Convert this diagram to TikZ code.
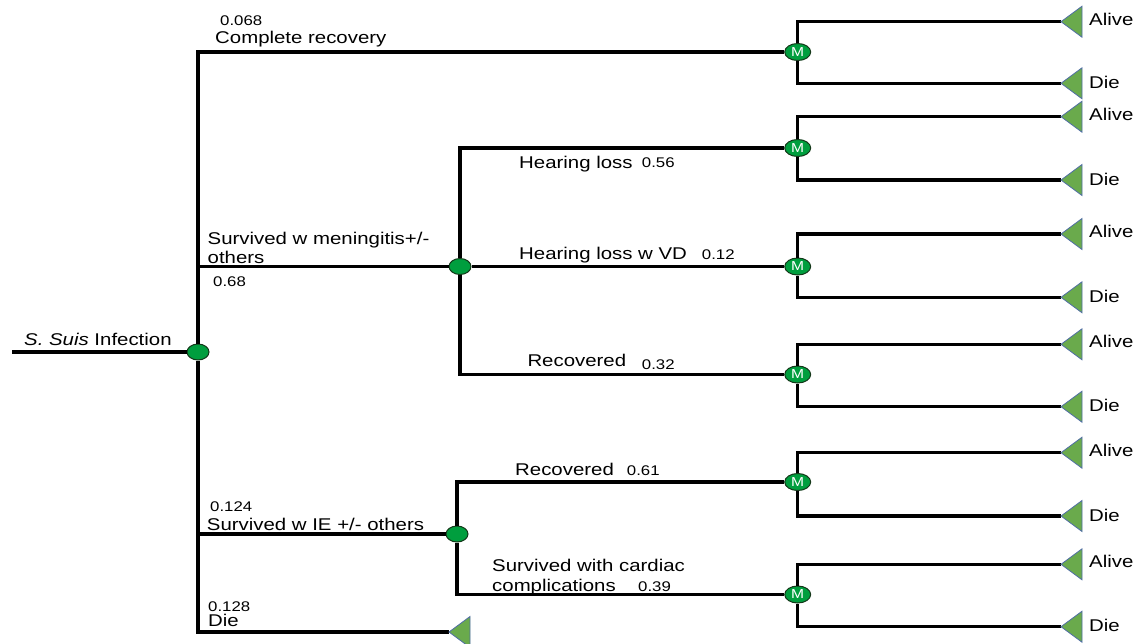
\documentclass[tikz,border=0pt]{standalone}
\usepackage{fontspec}
\setmainfont[FakeStretch=1.2]{Liberation Sans}
\definecolor{chgreen}{RGB}{0,158,62}
\definecolor{chdark}{RGB}{20,55,25}
\definecolor{trigreen}{RGB}{106,170,76}
\definecolor{triblue}{RGB}{80,110,165}
\usetikzlibrary{shapes.geometric}
\begin{document}
\begin{tikzpicture}[x=1pt,y=-1pt,
  tree/.style={line width=3.2pt, black, line join=miter},
  chance/.style={ellipse, fill=chgreen, draw=chdark, line width=1pt, minimum width=22pt, minimum height=16pt, inner sep=0pt},
  markov/.style={ellipse, fill=chgreen, draw=chdark, line width=1pt, minimum width=26pt, minimum height=17pt, inner sep=0pt, text=white, font=\fontsize{13}{13}\selectfont},
  lab/.style={anchor=base west, inner sep=0pt, font=\fontsize{17}{20}\selectfont},
  num/.style={anchor=base west, inner sep=0pt, font=\fontsize{14}{16}\selectfont},
  term/.style={fill=trigreen, draw=triblue, line width=0.8pt, line join=miter}
]
\useasboundingbox (0,0) rectangle (1147,643);

% decision structure nodes
\coordinate (root) at (12,352);
\node[chance] (c0) at (198,352) {};
\node[chance] (c1) at (460,266.5) {};
\node[chance] (c2) at (457,534) {};
\coordinate (tdie) at (449,632);

\node[markov] (m1) at (797.7,52) {M};
\node[markov] (m2) at (797.7,148) {M};
\node[markov] (m3) at (797.7,266.5) {M};
\node[markov] (m4) at (797.7,374.5) {M};
\node[markov] (m5) at (797.7,482) {M};
\node[markov] (m6) at (797.7,594.5) {M};

% terminal coordinates (apex of triangles)
\coordinate (a1) at (1061,21.7);  \coordinate (d1) at (1061,83.3);
\coordinate (a2) at (1061,116.7); \coordinate (d2) at (1061,180);
\coordinate (a3) at (1061,234);   \coordinate (d3) at (1061,297.3);
\coordinate (a4) at (1061,344.3); \coordinate (d4) at (1061,406.7);
\coordinate (a5) at (1061,452.7); \coordinate (d5) at (1061,516);
\coordinate (a6) at (1061,564.3); \coordinate (d6) at (1061,626.7);

% connectors
\draw[tree] (root) -- (c0);
\draw[tree] (c0) |- (m1);
\draw[tree] (c0) |- (c1);
\draw[tree] (c0) |- (c2);
\draw[tree] (c0) |- (tdie);
\draw[tree] (c1) |- (m2);
\draw[tree] (c1) -- (m3);
\draw[tree] (c1) |- (m4);
\draw[tree] (c2) |- (m5);
\draw[tree] (c2) |- (m6);
\foreach \i in {1,...,6}{
  \draw[tree] (m\i) |- (a\i);
  \draw[tree] (m\i) |- (d\i);
}

% triangles
\foreach \t in {a1,d1,a2,d2,a3,d3,a4,d4,a5,d5,a6,d6,tdie}{
  \path[term] (\t) -- ++(21,-15.5) -- ++(0,31) -- cycle;
}

% outcome labels
\foreach \i/\ya/\yd in {1/25/88.3, 2/120.2/185, 3/237.5/302.3, 4/347.8/411.7, 5/456.2/521, 6/567.8/631.7}{
  \node[lab] (alive\i) at (1089,\ya) {Alive};
  \node[lab] (die\i) at (1089,\yd) {Die};
}

% branch labels
\node[lab] (ls) at (24,345) {\textit{S. Suis} Infection};
\node[num] (p1) at (220,25.7) {0.068};
\node[lab] (l1) at (215,43.3) {Complete recovery};
\node[lab] (l2a) at (207.5,244) {Survived w meningitis+/-};
\node[lab] (l2b) at (207.5,263.3) {others};
\node[num] (p2) at (213,286.7) {0.68};
\node[num] (p3) at (210,511) {0.124};
\node[lab] (l3) at (206.7,530) {Survived w IE +/- others};
\node[num] (p4) at (208,611) {0.128};
\node[lab] (l4) at (208,626.7) {Die};

\node[lab] (l5) at (519,168.3) {Hearing loss};
\node[num] (p5) at (641.7,167.5) {0.56};
\node[lab] (l6) at (519,259) {Hearing loss w VD};
\node[num] (p6) at (701.7,259.3) {0.12};
\node[lab] (l7) at (527.3,366.7) {Recovered};
\node[num] (p7) at (641.7,369) {0.32};
\node[lab] (l8) at (515,475.7) {Recovered};
\node[num] (p8) at (626.7,475.7) {0.61};
\node[lab] (l9a) at (492,571.7) {Survived with cardiac};
\node[lab] (l9b) at (492,591.7) {complications};
\node[num] (p9) at (638,591.7) {0.39};
\end{tikzpicture}
\end{document}
